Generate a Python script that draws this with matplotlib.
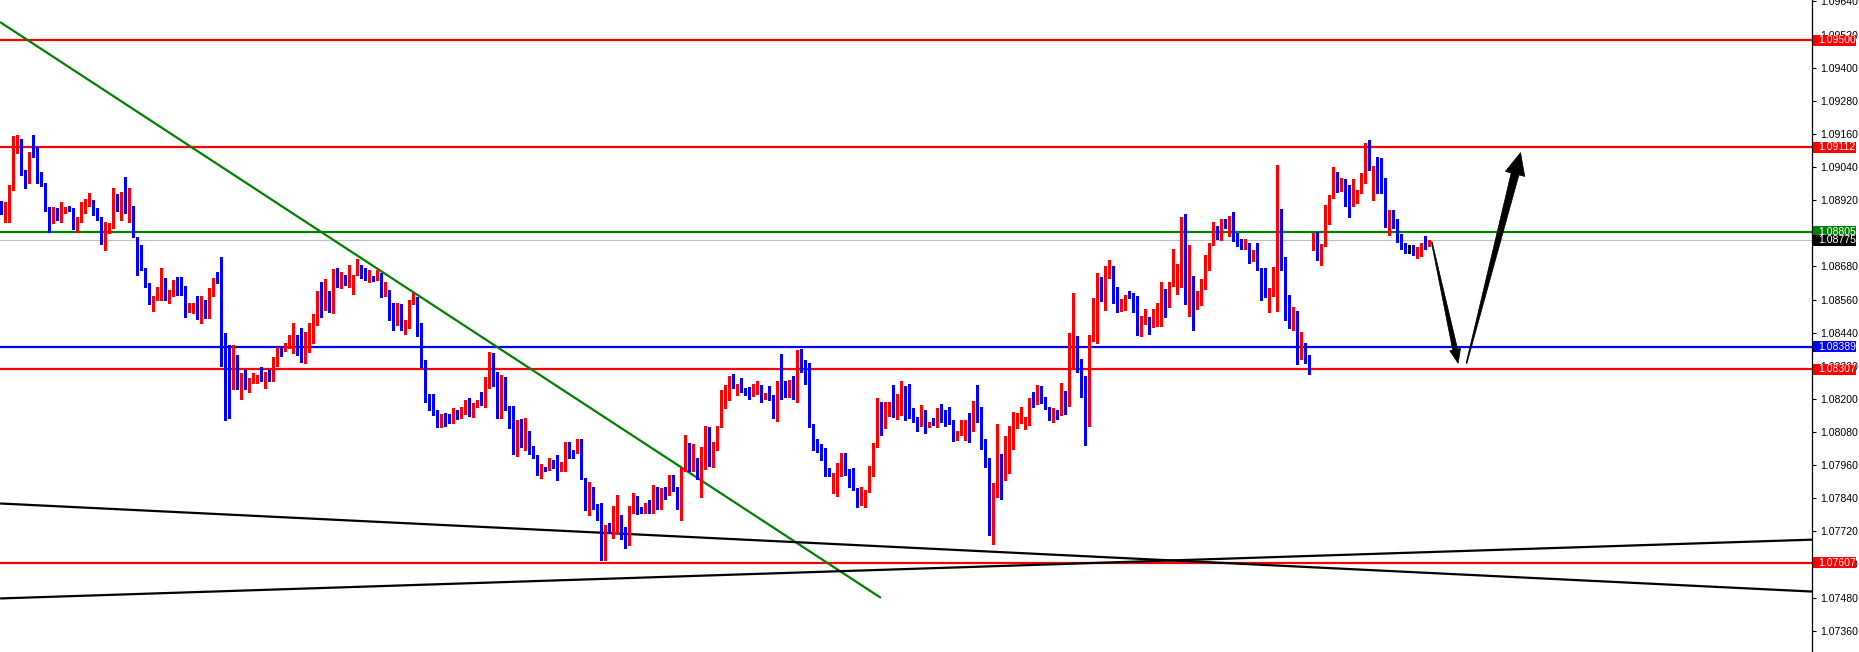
import matplotlib
matplotlib.use('Agg')
import matplotlib.pyplot as plt
from matplotlib.patches import Rectangle, Polygon
from matplotlib.transforms import blended_transform_factory, IdentityTransform
import numpy as np

# candles (EURUSD-like)
opens = [
    1.08917, 1.08903, 1.08911, 1.08971, 1.09096, 1.09126, 1.09020, 1.09003, 1.09092, 1.09084,
    1.09020, 1.08981, 1.08884, 1.08839, 1.08863, 1.08854, 1.08876, 1.08897, 1.08887, 1.08818,
    1.08842, 1.08909, 1.08909, 1.08911, 1.08891, 1.08860, 1.08764, 1.08812, 1.08818, 1.08939,
    1.08884, 1.08935, 1.08875, 1.08894, 1.08788, 1.08715, 1.08670, 1.08616, 1.08546, 1.08565,
    1.08573, 1.08603, 1.08577, 1.08577, 1.08625, 1.08613, 1.08610, 1.08516, 1.08516, 1.08534,
    1.08496, 1.08534, 1.08501, 1.08573, 1.08631, 1.08625, 1.08420, 1.08319, 1.08275, 1.08356,
    1.08239, 1.08247, 1.08237, 1.08266, 1.08266, 1.08281, 1.08278, 1.08283, 1.08277, 1.08341,
    1.08380, 1.08375, 1.08389, 1.08420, 1.08432, 1.08401, 1.08365, 1.08428, 1.08440, 1.08468,
    1.08585, 1.08556, 1.08561, 1.08520, 1.08655, 1.08604, 1.08643, 1.08625, 1.08589, 1.08651,
    1.08679, 1.08669, 1.08637, 1.08643, 1.08633, 1.08655, 1.08576, 1.08591, 1.08512, 1.08470,
    1.08544, 1.08452, 1.08462, 1.08546, 1.08564, 1.08464, 1.08339, 1.08190, 1.08175, 1.08153,
    1.08100, 1.08146, 1.08126, 1.08118, 1.08146, 1.08142, 1.08148, 1.08178, 1.08142, 1.08178,
    1.08194, 1.08178, 1.08239, 1.08356, 1.08259, 1.08146, 1.08278, 1.08166, 1.08106, 1.08057,
    1.08088, 1.08027, 1.08066, 1.08018, 1.07987, 1.07931, 1.07955, 1.07945, 1.07973, 1.07949,
    1.07939, 1.07937, 1.08037, 1.08013, 1.08009, 1.08054, 1.07912, 1.07800, 1.07870, 1.07812,
    1.07768, 1.07617, 1.07740, 1.07731, 1.07731, 1.07776, 1.07722, 1.07671, 1.07792, 1.07846,
    1.07804, 1.07792, 1.07812, 1.07792, 1.07880, 1.07816, 1.07864, 1.07855, 1.07921, 1.07876,
    1.07820, 1.07949, 1.08018, 1.07952, 1.07979, 1.07937, 1.07952, 1.07991, 1.07964, 1.08039,
    1.08097, 1.08194, 1.08214, 1.08281, 1.08238, 1.08247, 1.08232, 1.08229, 1.08220, 1.08220,
    1.08247, 1.08206, 1.08208, 1.08211, 1.08146, 1.08232, 1.08226, 1.08214, 1.08230, 1.08199,
    1.08375, 1.08327, 1.08299, 1.08109, 1.08039, 1.08021, 1.08018, 1.07945, 1.07882, 1.07921,
    1.07943, 1.07949, 1.07931, 1.07897, 1.07873, 1.07816, 1.07861, 1.07864, 1.07928, 1.08030,
    1.08182, 1.08118, 1.08154, 1.08187, 1.08178, 1.08190, 1.08232, 1.08178, 1.08146, 1.08130,
    1.08106, 1.08142, 1.08100, 1.08121, 1.08109, 1.08162, 1.08150, 1.08150, 1.08109, 1.08066,
    1.08073, 1.08100, 1.08102, 1.08082, 1.08174, 1.08166, 1.08049, 1.07979, 1.07759, 1.07858,
    1.07993, 1.07961, 1.07977, 1.08045, 1.08121, 1.08124, 1.08109, 1.08109, 1.08190, 1.08184,
    1.08206, 1.08206, 1.08170, 1.08130, 1.08156, 1.08142, 1.08226, 1.08175, 1.08332, 1.08380,
    1.08335, 1.08232, 1.08121, 1.08416, 1.08476, 1.08628, 1.08597, 1.08649, 1.08682, 1.08592,
    1.08532, 1.08540, 1.08577, 1.08573, 1.08525, 1.08432, 1.08474, 1.08488, 1.08464, 1.08500,
    1.08500, 1.08577, 1.08552, 1.08616, 1.08657, 1.08670, 1.08785, 1.08583, 1.08645, 1.08540,
    1.08568, 1.08604, 1.08694, 1.08761, 1.08814, 1.08790, 1.08848, 1.08827, 1.08854, 1.08790,
    1.08773, 1.08749, 1.08761, 1.08703, 1.08718, 1.08670, 1.08613, 1.08571, 1.08592, 1.08667,
    1.08851, 1.08649, 1.08534, 1.08468, 1.08516, 1.08344, 1.08389, 1.08347, 1.08749, 1.08802,
    1.08715, 1.08758, 1.08872, 1.08933, 1.09005, 1.08959, 1.08979, 1.08906, 1.08903, 1.08915,
    1.08951, 1.08999, 1.09123, 1.09032, 1.09041, 1.08987, 1.08983, 1.08826, 1.08878, 1.08846,
    1.08778, 1.08749, 1.08754, 1.08754, 1.08727, 1.08746, 1.08764, 1.08758,
]
highs = [
    1.08917, 1.08915, 1.08975, 1.09152, 1.09156, 1.09140, 1.09029, 1.09096, 1.09156, 1.09111,
    1.09023, 1.08983, 1.08894, 1.08894, 1.08891, 1.08915, 1.08894, 1.08899, 1.08891, 1.08860,
    1.08915, 1.08923, 1.08947, 1.08921, 1.08891, 1.08860, 1.08842, 1.08836, 1.08963, 1.08942,
    1.08951, 1.09005, 1.08963, 1.08899, 1.08788, 1.08758, 1.08673, 1.08619, 1.08571, 1.08607,
    1.08673, 1.08637, 1.08595, 1.08631, 1.08643, 1.08643, 1.08610, 1.08549, 1.08546, 1.08571,
    1.08571, 1.08559, 1.08601, 1.08637, 1.08661, 1.08715, 1.08438, 1.08396, 1.08396, 1.08359,
    1.08293, 1.08303, 1.08275, 1.08295, 1.08287, 1.08317, 1.08299, 1.08303, 1.08351, 1.08387,
    1.08389, 1.08401, 1.08432, 1.08474, 1.08432, 1.08456, 1.08444, 1.08476, 1.08508, 1.08589,
    1.08622, 1.08633, 1.08591, 1.08669, 1.08673, 1.08661, 1.08649, 1.08685, 1.08649, 1.08707,
    1.08685, 1.08673, 1.08667, 1.08645, 1.08667, 1.08655, 1.08625, 1.08595, 1.08546, 1.08546,
    1.08544, 1.08486, 1.08558, 1.08583, 1.08570, 1.08474, 1.08341, 1.08218, 1.08218, 1.08160,
    1.08144, 1.08148, 1.08146, 1.08166, 1.08158, 1.08170, 1.08196, 1.08202, 1.08184, 1.08196,
    1.08226, 1.08281, 1.08371, 1.08365, 1.08299, 1.08287, 1.08281, 1.08175, 1.08175, 1.08124,
    1.08126, 1.08130, 1.08082, 1.08030, 1.07997, 1.07963, 1.07955, 1.07987, 1.07977, 1.07997,
    1.07973, 1.08042, 1.08042, 1.08015, 1.08054, 1.08054, 1.07912, 1.07900, 1.07880, 1.07820,
    1.07824, 1.07744, 1.07752, 1.07812, 1.07852, 1.07780, 1.07737, 1.07812, 1.07858, 1.07849,
    1.07807, 1.07822, 1.07834, 1.07888, 1.07882, 1.07876, 1.07880, 1.07925, 1.07925, 1.07882,
    1.07949, 1.08069, 1.08039, 1.08037, 1.07985, 1.08027, 1.08102, 1.08097, 1.08045, 1.08100,
    1.08232, 1.08251, 1.08283, 1.08290, 1.08254, 1.08275, 1.08238, 1.08242, 1.08254, 1.08263,
    1.08251, 1.08223, 1.08245, 1.08214, 1.08263, 1.08363, 1.08263, 1.08269, 1.08283, 1.08377,
    1.08380, 1.08341, 1.08331, 1.08109, 1.08054, 1.08037, 1.08021, 1.07949, 1.07933, 1.07969,
    1.08003, 1.08003, 1.07945, 1.07949, 1.07876, 1.07880, 1.07870, 1.07957, 1.08039, 1.08202,
    1.08187, 1.08187, 1.08187, 1.08251, 1.08218, 1.08263, 1.08247, 1.08254, 1.08166, 1.08136,
    1.08178, 1.08160, 1.08118, 1.08130, 1.08166, 1.08182, 1.08160, 1.08170, 1.08124, 1.08082,
    1.08124, 1.08124, 1.08150, 1.08194, 1.08251, 1.08170, 1.08054, 1.07985, 1.07897, 1.08109,
    1.08001, 1.08066, 1.08102, 1.08154, 1.08150, 1.08172, 1.08136, 1.08202, 1.08226, 1.08251,
    1.08247, 1.08208, 1.08172, 1.08166, 1.08160, 1.08257, 1.08230, 1.08440, 1.08585, 1.08428,
    1.08344, 1.08283, 1.08432, 1.08565, 1.08657, 1.08643, 1.08682, 1.08703, 1.08682, 1.08607,
    1.08561, 1.08577, 1.08592, 1.08583, 1.08573, 1.08500, 1.08525, 1.08496, 1.08525, 1.08549,
    1.08625, 1.08597, 1.08625, 1.08742, 1.08689, 1.08860, 1.08870, 1.08758, 1.08645, 1.08589,
    1.08633, 1.08721, 1.08764, 1.08842, 1.08827, 1.08851, 1.08851, 1.08863, 1.08878, 1.08802,
    1.08778, 1.08778, 1.08764, 1.08740, 1.08764, 1.08673, 1.08673, 1.08601, 1.08679, 1.09047,
    1.08887, 1.08713, 1.08577, 1.08534, 1.08520, 1.08444, 1.08401, 1.08359, 1.08802, 1.08806,
    1.08761, 1.08903, 1.08939, 1.09041, 1.09023, 1.08999, 1.08995, 1.08975, 1.08995, 1.08957,
    1.09020, 1.09128, 1.09138, 1.09044, 1.09075, 1.09072, 1.08999, 1.08884, 1.08884, 1.08851,
    1.08797, 1.08764, 1.08758, 1.08758, 1.08752, 1.08766, 1.08790, 1.08776,
]
lows = [
    1.08870, 1.08839, 1.08839, 1.08957, 1.09090, 1.09011, 1.08963, 1.08981, 1.09078, 1.08981,
    1.08971, 1.08882, 1.08806, 1.08836, 1.08848, 1.08842, 1.08872, 1.08882, 1.08814, 1.08806,
    1.08842, 1.08875, 1.08897, 1.08866, 1.08848, 1.08761, 1.08740, 1.08800, 1.08818, 1.08882,
    1.08848, 1.08875, 1.08842, 1.08785, 1.08649, 1.08667, 1.08607, 1.08544, 1.08520, 1.08559,
    1.08559, 1.08559, 1.08549, 1.08573, 1.08577, 1.08577, 1.08498, 1.08513, 1.08510, 1.08488,
    1.08476, 1.08492, 1.08492, 1.08573, 1.08619, 1.08319, 1.08124, 1.08130, 1.08235, 1.08235,
    1.08199, 1.08235, 1.08226, 1.08257, 1.08257, 1.08266, 1.08241, 1.08266, 1.08263, 1.08319,
    1.08356, 1.08372, 1.08383, 1.08365, 1.08358, 1.08335, 1.08329, 1.08371, 1.08404, 1.08468,
    1.08498, 1.08522, 1.08516, 1.08512, 1.08604, 1.08601, 1.08613, 1.08607, 1.08580, 1.08649,
    1.08637, 1.08631, 1.08625, 1.08628, 1.08631, 1.08570, 1.08573, 1.08486, 1.08450, 1.08468,
    1.08450, 1.08435, 1.08456, 1.08544, 1.08426, 1.08317, 1.08187, 1.08158, 1.08142, 1.08097,
    1.08097, 1.08102, 1.08112, 1.08114, 1.08126, 1.08130, 1.08146, 1.08138, 1.08136, 1.08170,
    1.08178, 1.08170, 1.08239, 1.08247, 1.08130, 1.08130, 1.08160, 1.08094, 1.08001, 1.07993,
    1.08027, 1.08015, 1.08001, 1.07985, 1.07925, 1.07915, 1.07937, 1.07943, 1.07949, 1.07906,
    1.07937, 1.07937, 1.07985, 1.07985, 1.08005, 1.07910, 1.07798, 1.07780, 1.07800, 1.07762,
    1.07617, 1.07617, 1.07713, 1.07695, 1.07713, 1.07692, 1.07659, 1.07671, 1.07786, 1.07783,
    1.07786, 1.07786, 1.07786, 1.07786, 1.07800, 1.07800, 1.07836, 1.07852, 1.07868, 1.07800,
    1.07762, 1.07940, 1.07940, 1.07940, 1.07909, 1.07844, 1.07945, 1.07957, 1.07952, 1.08013,
    1.08097, 1.08166, 1.08196, 1.08238, 1.08214, 1.08226, 1.08214, 1.08199, 1.08211, 1.08218,
    1.08187, 1.08199, 1.08196, 1.08130, 1.08121, 1.08199, 1.08206, 1.08208, 1.08199, 1.08190,
    1.08299, 1.08254, 1.08097, 1.08015, 1.08009, 1.07977, 1.07919, 1.07919, 1.07858, 1.07849,
    1.07919, 1.07925, 1.07882, 1.07870, 1.07810, 1.07816, 1.07808, 1.07861, 1.07919, 1.08027,
    1.08070, 1.08094, 1.08138, 1.08136, 1.08126, 1.08142, 1.08124, 1.08130, 1.08118, 1.08085,
    1.08100, 1.08076, 1.08097, 1.08106, 1.08097, 1.08118, 1.08102, 1.08109, 1.08049, 1.08051,
    1.08069, 1.08051, 1.08042, 1.08082, 1.08118, 1.08018, 1.07955, 1.07707, 1.07675, 1.07846,
    1.07836, 1.07907, 1.07933, 1.08018, 1.08094, 1.08114, 1.08090, 1.08106, 1.08170, 1.08182,
    1.08184, 1.08162, 1.08124, 1.08118, 1.08126, 1.08142, 1.08146, 1.08175, 1.08315, 1.08299,
    1.08206, 1.08033, 1.08100, 1.08408, 1.08404, 1.08556, 1.08522, 1.08637, 1.08549, 1.08516,
    1.08520, 1.08522, 1.08565, 1.08516, 1.08432, 1.08428, 1.08472, 1.08435, 1.08462, 1.08464,
    1.08464, 1.08498, 1.08532, 1.08609, 1.08580, 1.08604, 1.08544, 1.08501, 1.08450, 1.08525,
    1.08540, 1.08597, 1.08667, 1.08758, 1.08778, 1.08776, 1.08818, 1.08790, 1.08773, 1.08754,
    1.08742, 1.08742, 1.08694, 1.08701, 1.08667, 1.08558, 1.08568, 1.08513, 1.08573, 1.08520,
    1.08667, 1.08486, 1.08456, 1.08450, 1.08327, 1.08344, 1.08331, 1.08290, 1.08740, 1.08703,
    1.08685, 1.08754, 1.08834, 1.08927, 1.08951, 1.08954, 1.08899, 1.08860, 1.08899, 1.08911,
    1.08945, 1.08983, 1.09029, 1.08921, 1.08945, 1.08945, 1.08824, 1.08794, 1.08818, 1.08770,
    1.08742, 1.08727, 1.08730, 1.08721, 1.08709, 1.08718, 1.08742, 1.08754,
]
closes = [
    1.08905, 1.08915, 1.08975, 1.09096, 1.09128, 1.09017, 1.08998, 1.09092, 1.09084, 1.09017,
    1.08975, 1.08882, 1.08839, 1.08863, 1.08858, 1.08891, 1.08891, 1.08887, 1.08818, 1.08845,
    1.08909, 1.08917, 1.08921, 1.08894, 1.08866, 1.08761, 1.08812, 1.08827, 1.08935, 1.08884,
    1.08935, 1.08875, 1.08894, 1.08785, 1.08713, 1.08667, 1.08609, 1.08546, 1.08568, 1.08585,
    1.08609, 1.08573, 1.08583, 1.08621, 1.08610, 1.08607, 1.08516, 1.08528, 1.08532, 1.08496,
    1.08537, 1.08501, 1.08577, 1.08631, 1.08619, 1.08416, 1.08317, 1.08275, 1.08353, 1.08235,
    1.08269, 1.08237, 1.08269, 1.08278, 1.08284, 1.08277, 1.08281, 1.08277, 1.08341, 1.08380,
    1.08375, 1.08394, 1.08426, 1.08432, 1.08394, 1.08365, 1.08432, 1.08438, 1.08474, 1.08585,
    1.08556, 1.08561, 1.08522, 1.08657, 1.08607, 1.08645, 1.08625, 1.08637, 1.08649, 1.08679,
    1.08669, 1.08637, 1.08643, 1.08633, 1.08655, 1.08576, 1.08589, 1.08512, 1.08471, 1.08546,
    1.08452, 1.08464, 1.08549, 1.08561, 1.08462, 1.08345, 1.08187, 1.08172, 1.08146, 1.08097,
    1.08142, 1.08114, 1.08118, 1.08146, 1.08138, 1.08150, 1.08178, 1.08142, 1.08182, 1.08194,
    1.08178, 1.08245, 1.08356, 1.08257, 1.08146, 1.08278, 1.08162, 1.08102, 1.08057, 1.08088,
    1.08027, 1.08066, 1.08015, 1.07985, 1.07931, 1.07951, 1.07945, 1.07975, 1.07952, 1.07940,
    1.07945, 1.08033, 1.08009, 1.08009, 1.08054, 1.07910, 1.07801, 1.07870, 1.07810, 1.07764,
    1.07617, 1.07734, 1.07731, 1.07740, 1.07776, 1.07719, 1.07675, 1.07795, 1.07846, 1.07786,
    1.07792, 1.07810, 1.07792, 1.07876, 1.07816, 1.07864, 1.07856, 1.07921, 1.07873, 1.07820,
    1.07943, 1.08021, 1.07952, 1.07979, 1.07937, 1.07955, 1.07991, 1.07964, 1.08039, 1.08097,
    1.08196, 1.08220, 1.08281, 1.08242, 1.08251, 1.08230, 1.08226, 1.08206, 1.08230, 1.08251,
    1.08206, 1.08208, 1.08205, 1.08146, 1.08232, 1.08226, 1.08211, 1.08232, 1.08199, 1.08375,
    1.08319, 1.08295, 1.08106, 1.08033, 1.08018, 1.08018, 1.07943, 1.07919, 1.07931, 1.07945,
    1.07949, 1.07931, 1.07897, 1.07870, 1.07816, 1.07867, 1.07867, 1.07931, 1.08030, 1.08182,
    1.08118, 1.08158, 1.08187, 1.08142, 1.08194, 1.08232, 1.08175, 1.08142, 1.08124, 1.08106,
    1.08142, 1.08082, 1.08114, 1.08109, 1.08166, 1.08142, 1.08142, 1.08112, 1.08066, 1.08076,
    1.08102, 1.08102, 1.08085, 1.08174, 1.08162, 1.08042, 1.07977, 1.07759, 1.07856, 1.07993,
    1.07961, 1.07979, 1.08045, 1.08124, 1.08130, 1.08150, 1.08121, 1.08190, 1.08187, 1.08206,
    1.08202, 1.08170, 1.08130, 1.08154, 1.08142, 1.08226, 1.08175, 1.08335, 1.08380, 1.08299,
    1.08230, 1.08121, 1.08423, 1.08480, 1.08628, 1.08597, 1.08649, 1.08682, 1.08592, 1.08520,
    1.08552, 1.08577, 1.08568, 1.08520, 1.08435, 1.08480, 1.08488, 1.08464, 1.08504, 1.08504,
    1.08580, 1.08552, 1.08621, 1.08661, 1.08670, 1.08790, 1.08583, 1.08645, 1.08540, 1.08571,
    1.08607, 1.08697, 1.08761, 1.08802, 1.08790, 1.08848, 1.08827, 1.08854, 1.08788, 1.08770,
    1.08752, 1.08761, 1.08703, 1.08721, 1.08667, 1.08609, 1.08571, 1.08597, 1.08670, 1.08851,
    1.08667, 1.08532, 1.08472, 1.08516, 1.08351, 1.08389, 1.08331, 1.08302, 1.08802, 1.08715,
    1.08761, 1.08875, 1.08933, 1.09005, 1.08959, 1.08979, 1.08903, 1.08899, 1.08942, 1.08954,
    1.09005, 1.09126, 1.09032, 1.09044, 1.08983, 1.08979, 1.08826, 1.08878, 1.08839, 1.08776,
    1.08742, 1.08742, 1.08754, 1.08725, 1.08746, 1.08764, 1.08761, 1.08773,
]

# horizontal levels
levels = [1.09500, 1.09112, 1.08307, 1.07607]
level_green = 1.08805
level_blue = 1.08389
bid = 1.08775

# price scale ticks (the ones hidden behind a tag get no text)
ticks = [1.07360, 1.07480, 1.07600, 1.07720, 1.07840, 1.07960, 1.08080, 1.08200,
         1.08320, 1.08440, 1.08560, 1.08680, 1.08800, 1.08920, 1.09040, 1.09160,
         1.09280, 1.09400, 1.09520, 1.09640]
hidden_ticks = [1.08800]

# trend lines (bar index, price)
trend_green = [(-0.3, 1.09565), (219.9, 1.07479)]
trend_black_a = [(-0.3, 1.07821), (452.7, 1.07502)]
trend_black_b = [(-0.3, 1.07477), (452.7, 1.07690)]

# hand drawn arrows (bar index, price)
arrow_down = [(357.6, 1.08769), (364.2, 1.08329)]
arrow_up = [(366.3, 1.08329), (379.8, 1.09092)]

W, H = 1859, 652
fig = plt.figure(figsize=(W / 100, H / 100), dpi=100)
ax = fig.add_axes([0, 0, 1812 / W, 1])
ax.set_xlim(-0.33, 452.67)
ax.set_ylim(1.07283, 1.09645)

px = (1.09645 - 1.07283) / H   # price per pixel
x = np.arange(len(opens))
o = np.array(opens); c = np.array(closes)
hi = np.array(highs); lo = np.array(lows)
cols = np.where(c > o, '#FF0000', np.where(c < o, '#0000FF', '#000000'))

body_lo = np.minimum(o, c)
body_h = np.maximum(np.abs(c - o), px)
ax.vlines(x, lo, hi, colors=cols, lw=0.9, antialiased=False, zorder=3)
ax.bar(x, body_h, bottom=body_lo, width=0.78, color=cols, linewidth=0,
       antialiased=False, zorder=4)

# horizontal lines
for lv in levels:
    ax.axhline(lv, color='#FF0000', lw=1.6, zorder=2)
ax.axhline(level_green, color='#008000', lw=1.6, zorder=2)
ax.axhline(level_blue, color='#0000FF', lw=1.6, zorder=2)
ax.axhline(bid, color='#C0C0C0', lw=0.8, zorder=1)

for line, col in [(trend_green, '#008000'), (trend_black_a, 'black'), (trend_black_b, 'black')]:
    xs, ys = zip(*line)
    ax.plot(xs, ys, color=col, lw=1.6, solid_capstyle='butt', zorder=2)


def tapered_arrow(start, tip, w0, w1, head_w, head_len):
    p0 = ax.transData.transform(start)
    p1 = ax.transData.transform(tip)
    d = p1 - p0
    u = d / np.hypot(*d)
    n = np.array([-u[1], u[0]])
    base = p1 - u * head_len
    pts = [p0 + n * w0 / 2, base + n * w1 / 2, base + n * head_w / 2, p1,
           base - n * head_w / 2, base - n * w1 / 2, p0 - n * w0 / 2]
    ax.add_patch(Polygon(pts, closed=True, transform=IdentityTransform(),
                         fc='black', ec='black', lw=0.5, zorder=6, clip_on=False))


tapered_arrow(arrow_down[0], arrow_down[1], 0.8, 5, 11, 14)
tapered_arrow(arrow_up[0], arrow_up[1], 0.8, 8, 20, 22)

# right price scale
fam = ['Liberation Sans Narrow', 'Liberation Sans', 'DejaVu Sans']
for s in ['left', 'top', 'bottom']:
    ax.spines[s].set_visible(False)
ax.spines['right'].set_linewidth(0.9)
ax.set_xticks([])
ax.yaxis.tick_right()
ax.set_yticks(ticks)
ax.set_yticklabels(['' if t in hidden_ticks else f'{t:.5f}' for t in ticks])
ax.tick_params(axis='y', direction='out', length=3, width=0.8, pad=3,
               labelsize=7.6, labelcolor='black')
for lab in ax.get_yticklabels():
    lab.set_fontfamily(fam)

# coloured price labels on the scale
tr = blended_transform_factory(ax.transAxes, ax.transData)
tags = [(lv, '#FF0000') for lv in levels] + [(level_green, '#008000'),
                                             (level_blue, '#0000FF'), (bid, '#000000')]
for lv, col in tags:
    ax.add_patch(Rectangle((1 + 1 / 1812, lv - 5.5 * px), 43 / 1812, 11 * px,
                           transform=tr, fc=col, ec='none', clip_on=False, zorder=10))
    ax.text(1 + 6 / 1812, lv, f'{lv:.5f}', transform=tr, color='white',
            fontsize=7.6, va='center', ha='left', zorder=11, clip_on=False,
            family=fam)

fig.savefig('out.png', dpi=100, facecolor='white')
